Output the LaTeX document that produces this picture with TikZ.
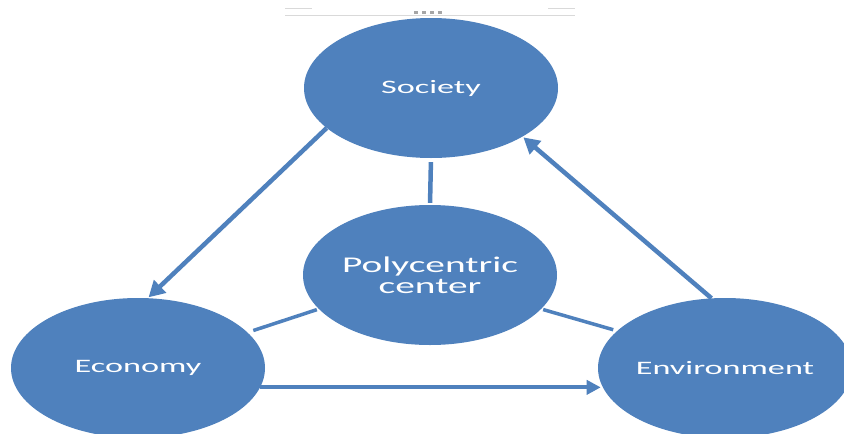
\documentclass[tikz,border=0pt]{standalone}
\usepackage{fontspec}
\setmainfont{Carlito}
\usetikzlibrary{shapes.geometric,arrows.meta}
\definecolor{obl}{HTML}{4F81BD}
\tikzset{
  bubble/.style={ellipse, fill=obl, draw=none, inner sep=0pt,
    minimum width=254pt, minimum height=140pt, text=white,
    font=\fontsize{19}{22}\selectfont},
  flow/.style={draw=obl, line width=4.5pt, -{Triangle[length=16pt,width=17pt]}},
  link/.style={draw=obl, line width=3.5pt},
}
\newcommand{\wide}[1]{\scalebox{1.8}[1]{#1}}
\begin{document}
\begin{tikzpicture}[x=1pt,y=-1pt]
\clip (0,0) rectangle (844,434);
\fill[white] (0,0) rectangle (844,434);
% top faint header marks
\draw[gray!30, line width=0.6pt] (285,8) -- (312,8);
\draw[gray!30, line width=0.6pt] (548,8) -- (575,8);
\foreach \xx in {416,424,432,440}{\fill[gray!70] (\xx-2,11) rectangle (\xx+2,13.5);}
% nodes
\node[bubble] (soc) at (431,88) {\wide{Society}};
\node[bubble] (poly) at (430,275) {\fontsize{22.5}{24}\selectfont\shortstack{\scalebox{1.75}[1]{Polycentric}\\\scalebox{1.75}[1]{center}}};
\node[bubble] (eco) at (138,368) {\wide{Economy}};
\node[bubble] (env) at (725,368) {\wide{Environment}};
% header line over society top
\draw[gray!30, line width=0.8pt] (285,15) -- (575,15);
% connectors
\draw[flow, shorten >=1pt] (soc.201.6) -- (eco.82.2);
\draw[flow, shorten >=1pt] (env.101.8) -- (soc.-28.3);
\draw[flow, line width=4pt, -{Triangle[length=14pt,width=14pt]}, shorten >=2pt] (eco.-9.85) -- (env.189.85);
\draw[link, line width=4.5pt, shorten <=4pt, shorten >=2pt] (soc.south) -- (poly.north);
\draw[link, shorten <=2pt, shorten >=6pt] (poly.197.4) -- (eco.18.3);
\draw[link, shorten <=2pt, shorten >=4pt] (poly.-17.8) -- (env.161.7);
\end{tikzpicture}
\end{document}
